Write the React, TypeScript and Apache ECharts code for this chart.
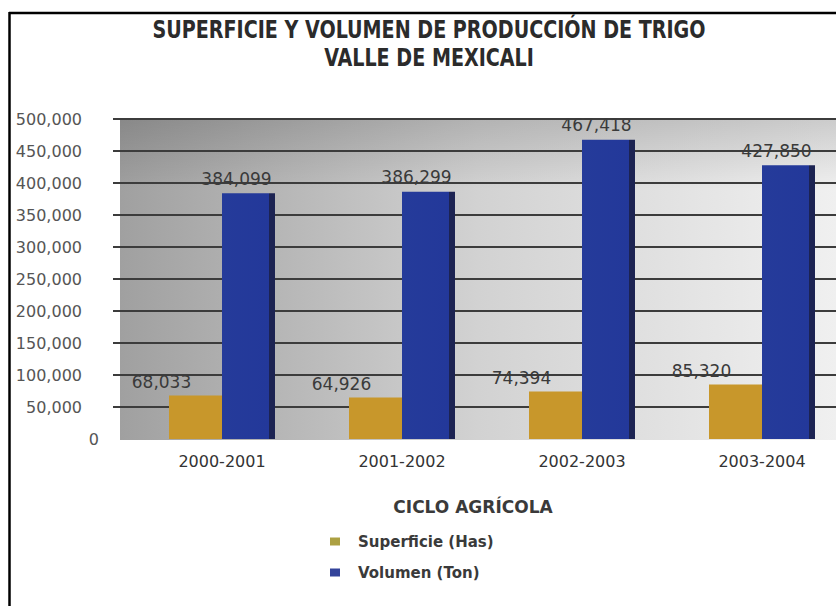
import React, { useEffect, useRef } from 'react';
import * as echarts from 'echarts';

const categories = ['2000-2001', '2001-2002', '2002-2003', '2003-2004'];
const superficieHas = [68033, 64926, 74394, 85320];
const volumenTon = [384099, 386299, 467418, 427850];
const seriesNames = ['Superficie (Has)', 'Volumen (Ton)'];
const titleLines = ['SUPERFICIE Y VOLUMEN DE PRODUCCIÓN DE TRIGO', 'VALLE DE MEXICALI'];
const xAxisTitle = 'CICLO AGRÍCOLA';
const yMin = 0;
const yMax = 500000;
const yStep = 50000;
const yTickValues = [50000, 100000, 150000, 200000, 250000, 300000, 350000, 400000, 450000, 500000];

const fmt = (v: number) => Number(v).toLocaleString('en-US');
const FONT = '"DejaVu Sans", Verdana, sans-serif';
const TITLE_FONT = '"DejaVu Sans Condensed", "Liberation Sans Narrow", sans-serif';

export default function App() {
  const ref = useRef<HTMLDivElement>(null);
  useEffect(() => {
    if (!ref.current) return;
    const chart = echarts.init(ref.current, undefined, { renderer: 'svg' });
    const titleTexts = titleLines.map((t, i) => ({
      type: 'text',
      x: 429,
      y: 29 + i * 28,
      scaleX: 0.85,
      silent: true,
      style: {
        text: t,
        fontFamily: TITLE_FONT,
        fontWeight: 'bold',
        fontSize: 25,
        fill: '#2b2b2b',
        align: 'center',
        verticalAlign: 'middle',
      },
    }));
    const option: any = {
      animation: false,
      backgroundColor: '#ffffff',
      grid: { left: 132, top: 119, width: 720, height: 320, outerBoundsMode: 'none' },
      xAxis: {
        type: 'category',
        data: categories,
        axisLine: { show: false },
        axisTick: { show: false },
        axisLabel: { margin: 14, color: '#333', fontSize: 16, fontFamily: FONT },
      },
      yAxis: {
        type: 'value',
        min: yMin,
        max: yMax,
        interval: yStep,
        axisLine: { show: false },
        axisTick: {
          show: true,
          length: 19,
          customValues: yTickValues,
          lineStyle: { color: '#3c3c3c', width: 2 },
        },
        axisLabel: {
          margin: 33,
          formatter: (v: number) => (v === 0 ? '{z|0}' : '{a|' + fmt(v) + '}'),
          rich: {
            a: { fontSize: 16, color: '#555', fontFamily: FONT, padding: [0, 17, 0, 0] },
            z: { fontSize: 16, color: '#555', fontFamily: FONT },
          },
        },
        splitLine: { show: true, lineStyle: { color: '#3c3c3c', width: 2 } },
      },
      legend: {
        orient: 'vertical',
        left: 330,
        top: 534,
        padding: 0,
        itemGap: 16,
        itemWidth: 10,
        itemHeight: 8,
        icon: 'rect',
        data: [
          { name: seriesNames[0], itemStyle: { color: '#aca042' } },
          { name: seriesNames[1], itemStyle: { color: '#33439a' } },
        ],
        textStyle: { fontFamily: FONT, fontWeight: 'bold', fontSize: 15, color: '#3a3a3a', padding: [0, 0, 0, 13] },
      },
      series: [
        {
          name: seriesNames[0],
          type: 'bar',
          data: superficieHas,
          barWidth: 53,
          barGap: '0%',
          itemStyle: { color: '#c8972b' },
          label: {
            show: true,
            position: 'top',
            distance: 5,
            offset: [-34, 0],
            formatter: (p: any) => fmt(p.value),
            color: '#3a3a3a',
            fontSize: 17,
            fontFamily: FONT,
          },
        },
        {
          name: seriesNames[1],
          type: 'bar',
          data: volumenTon,
          barWidth: 53,
          barGap: '0%',
          itemStyle: {
            color: new echarts.graphic.LinearGradient(0, 0, 1, 0, [
              { offset: 0, color: '#253b9a' },
              { offset: 0.89, color: '#23389a' },
              { offset: 0.89, color: '#1c2352' },
              { offset: 1, color: '#1c2352' },
            ]),
          },
          label: {
            show: true,
            position: 'top',
            distance: 6,
            offset: [-12, 0],
            formatter: (p: any) => fmt(p.value),
            color: '#3a3a3a',
            fontSize: 17,
            fontFamily: FONT,
          },
        },
      ],
      graphic: [
        {
          type: 'rect',
          z: -10,
          silent: true,
          shape: { x: 120, y: 119, width: 716, height: 321 },
          style: {
            fill: new echarts.graphic.LinearGradient(0, 0, 1, 0, [
              { offset: 0, color: '#a0a0a0' },
              { offset: 0.5, color: '#d2d2d2' },
              { offset: 1, color: '#f0f0f0' },
            ]),
          },
        },
        {
          type: 'rect',
          z: -9,
          silent: true,
          shape: { x: 120, y: 119, width: 716, height: 70 },
          style: {
            fill: new echarts.graphic.LinearGradient(0, 0, 0, 1, [
              { offset: 0, color: 'rgba(0,0,0,0.15)' },
              { offset: 1, color: 'rgba(0,0,0,0)' },
            ]),
          },
        },
        {
          type: 'line',
          silent: true,
          shape: { x1: 9, y1: 13, x2: 836, y2: 13 },
          style: { stroke: '#000', lineWidth: 2.5 },
        },
        {
          type: 'line',
          silent: true,
          shape: { x1: 9.5, y1: 12, x2: 9.5, y2: 606 },
          style: { stroke: '#000', lineWidth: 2.5 },
        },
        ...titleTexts,
        {
          type: 'text',
          x: 473,
          y: 507,
          silent: true,
          style: {
            text: xAxisTitle,
            fontFamily: FONT,
            fontWeight: 'bold',
            fontSize: 17,
            fill: '#3a3a3a',
            align: 'center',
            verticalAlign: 'middle',
          },
        },
      ],
    };
    chart.setOption(option);
    return () => chart.dispose();
  }, []);
  return (
    <div
      ref={ref}
      style={{ position: 'absolute', left: 0, top: 0, width: 836, height: 606 }}
    />
  );
}
